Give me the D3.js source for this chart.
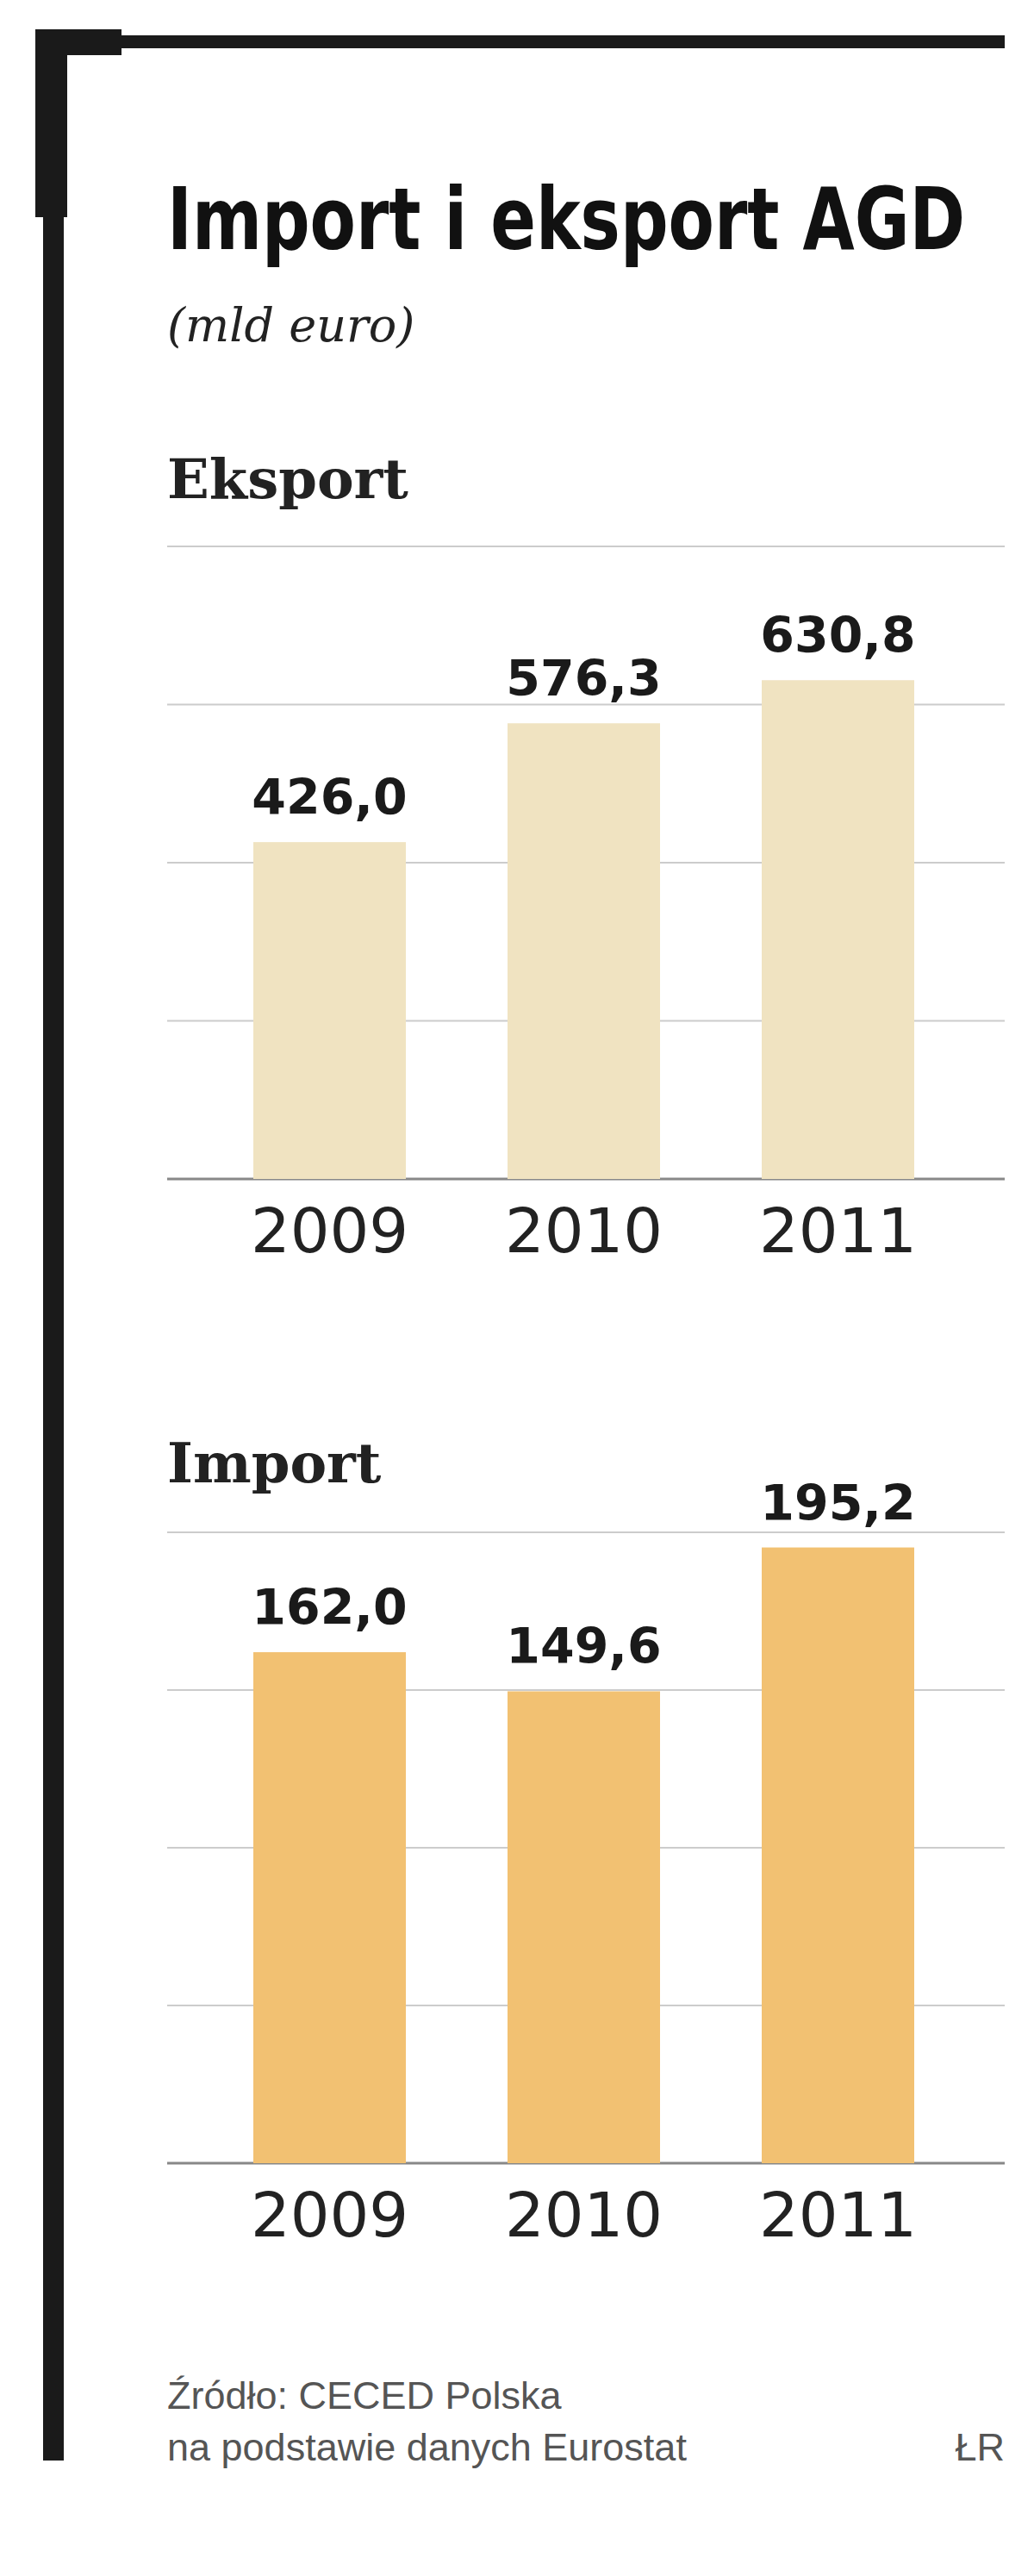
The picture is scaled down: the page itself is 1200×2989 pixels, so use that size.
<!DOCTYPE html>
<html>
<script src="https://d3js.org/d3.v7.min.js"></script>
<style>
    body { margin: 0; background: #fff; }
    .domain { display: none; }
    .tick line { display: none; }
</style>
<body></body>
<script>
    const years = ["2009", "2010", "2011"];
    const eksport = [426.0, 576.3, 630.8];
    const importVals = [162.0, 149.6, 195.2];
    const eksportTicks = [0, 200, 400, 600, 800];
    const importTicks = [0, 50, 100, 150, 200];
    const fmt = v => v.toFixed(1).replace(".", ",");

    const width = 1200, height = 2989;
    const svg = d3.select("body").append("svg").attr("width", width).attr("height", height);

    // frame
    svg.append("rect").attr("x", 41).attr("y", 41).attr("width", 1125).attr("height", 15).attr("fill", "#1a1a1a");
    svg.append("rect").attr("x", 41).attr("y", 34).attr("width", 100).attr("height", 30).attr("fill", "#1a1a1a");
    svg.append("rect").attr("x", 41).attr("y", 34).attr("width", 37).attr("height", 218).attr("fill", "#1a1a1a");
    svg.append("rect").attr("x", 50).attr("y", 34).attr("width", 24).attr("height", 2821).attr("fill", "#1a1a1a");

    svg.append("text").attr("x", 194).attr("y", 289)
        .attr("font-family", "DejaVu Sans Condensed, DejaVu Sans").attr("font-weight", "bold")
        .attr("font-size", 100).attr("textLength", 926).attr("lengthAdjust", "spacingAndGlyphs")
        .attr("fill", "#111").text("Import i eksport AGD");
    svg.append("text").attr("x", 194).attr("y", 396)
        .attr("font-family", "DejaVu Serif").attr("font-style", "italic")
        .attr("font-size", 54).attr("fill", "#222").text("(mld euro)");

    const x = d3.scaleBand().domain(years).range([235, 1120]).paddingInner(0.4).paddingOuter(0.2);

    function panel(title, titleY, values, ticks, yTop, yBase, color) {
        const g = svg.append("g");
        g.append("text").attr("x", 194).attr("y", titleY)
            .attr("font-family", "DejaVu Serif").attr("font-weight", "bold")
            .attr("font-size", 64).attr("fill", "#222").text(title);
        const y = d3.scaleLinear().domain([0, d3.max(ticks)]).range([yBase, yTop]);
        g.selectAll("line.grid").data(ticks).join("line")
            .attr("x1", 194).attr("x2", 1166)
            .attr("y1", d => y(d)).attr("y2", d => y(d))
            .attr("stroke", d => d === 0 ? "#888" : "#ccc").attr("stroke-width", d => d === 0 ? 3 : 2);
        g.selectAll("rect").data(values).join("rect")
            .attr("x", (d, i) => x(years[i])).attr("width", x.bandwidth())
            .attr("y", d => y(d)).attr("height", d => y(0) - y(d))
            .attr("fill", color);
        g.selectAll("text.val").data(values).join("text").attr("class", "val")
            .attr("x", (d, i) => x(years[i]) + x.bandwidth() / 2).attr("y", d => y(d) - 32)
            .attr("text-anchor", "middle").attr("font-family", "DejaVu Sans").attr("font-weight", "bold")
            .attr("font-size", 57).attr("fill", "#1a1a1a").text(fmt);
        const ax = g.append("g").attr("transform", `translate(0,${yBase})`)
            .call(d3.axisBottom(x).tickSize(0).tickPadding(34));
        ax.selectAll("text").attr("font-family", "DejaVu Sans").attr("font-size", 72)
            .attr("fill", "#222").attr("dy", "0.71em");
    }

    panel("Eksport", 578, eksport, eksportTicks, 634, 1368, "#f0e3c1");
    panel("Import", 1720, importVals, importTicks, 1778, 2510, "#f2c172");

    svg.append("text").attr("x", 194).attr("y", 2795)
        .attr("font-family", "Liberation Sans").attr("font-size", 45).attr("fill", "#555")
        .text("Źródło: CECED Polska");
    svg.append("text").attr("x", 194).attr("y", 2855)
        .attr("font-family", "Liberation Sans").attr("font-size", 45).attr("fill", "#555")
        .text("na podstawie danych Eurostat");
    svg.append("text").attr("x", 1166).attr("y", 2855).attr("text-anchor", "end")
        .attr("font-family", "Liberation Sans").attr("font-size", 45).attr("fill", "#555")
        .text("ŁR");
</script>
</html>
